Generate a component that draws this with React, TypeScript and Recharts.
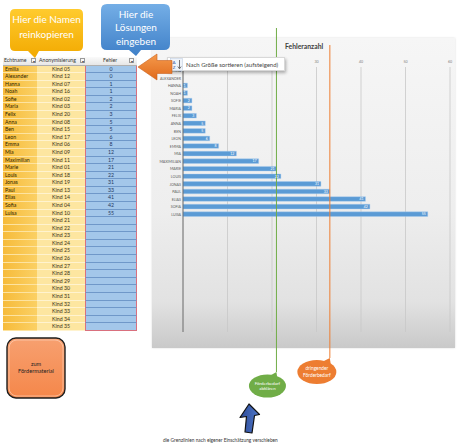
import React from "react";
import { BarChart, Bar, XAxis, YAxis, CartesianGrid, ReferenceLine, LabelList } from "recharts";

const names = [
  "Emilia", "Alexander", "Hanna", "Noah", "Sofie", "Maria", "Felix", "Anna", "Ben", "Leon",
  "Emma", "Mia", "Maximilian", "Marie", "Louis", "Jonas", "Paul", "Elias", "Sofia", "Luisa",
];
const kinds = [
  "Kind 05", "Kind 12", "Kind 07", "Kind 16", "Kind 02", "Kind 03", "Kind 20", "Kind 08", "Kind 15", "Kind 17",
  "Kind 06", "Kind 09", "Kind 11", "Kind 01", "Kind 18", "Kind 19", "Kind 13", "Kind 14", "Kind 04", "Kind 10",
  "Kind 21", "Kind 22", "Kind 23", "Kind 24", "Kind 25", "Kind 26", "Kind 27", "Kind 28", "Kind 29", "Kind 30",
  "Kind 31", "Kind 32", "Kind 33", "Kind 34", "Kind 35",
];
const errors = [0, 0, 1, 1, 2, 2, 3, 5, 5, 6, 8, 12, 17, 21, 22, 31, 33, 41, 42, 55];
const xTicks = [0, 10, 20, 30, 40, 50, 60];
const limitCheck = 21; // Förderbedarf abklären
const limitUrgent = 33; // dringender Förderbedarf

const FONT = "Lato, 'Open Sans', sans-serif";
const ROW_H = 273 / 36;

const rows = kinds.map((kind, i) => ({
  kind,
  name: names[i] ?? "",
  label: (names[i] ?? "").toUpperCase(),
  fehler: i < errors.length ? errors[i] : null,
}));

const labelByKind: Record<string, string> = {};
rows.forEach(r => { labelByKind[r.kind] = r.label; });

function limitShape(color: string, lines: string[], top: number, bottom: number, dx: number, dy: number, rx: number, ry: number, fs: number) {
  return (p: any) => {
    const x = p.x1;
    const y1 = Math.min(p.y1, p.y2) - top;
    const y2 = Math.max(p.y1, p.y2) + bottom;
    const cx = x + dx;
    const cy = y2 + dy;
    return (
      <g>
        <line x1={x} x2={x} y1={y1} y2={y2} stroke={color} strokeWidth={1} />
        <path d={`M ${x} ${y2} L ${x - 7} ${cy - ry + 1.5} L ${x + 1} ${cy - ry + 5} Z`} fill={color} />
        <ellipse cx={cx} cy={cy} rx={rx} ry={ry} fill={color} />
        {lines.map((t, i) => (
          <text key={t} x={cx} y={cy + (i - (lines.length - 1) / 2) * (fs + 1.5) + fs / 3}
            textAnchor="middle" fontSize={fs} fill="#fff" fontFamily={FONT}>{t}</text>
        ))}
      </g>
    );
  };
}

function Dropdown({ left }: { left: number }) {
  return (
    <div style={{ position: "absolute", left, top: 1, width: 5, height: 5, border: "0.5px solid #9a9a9a",
      background: "#f8f8f8", fontSize: 4, lineHeight: "5px", textAlign: "center", color: "#444", boxSizing: "border-box" }}>▾</div>
  );
}

function Table() {
  const cell = { height: ROW_H, lineHeight: `${ROW_H}px`, fontSize: 5.2, boxSizing: "border-box" as const, overflow: "hidden" };
  return (
    <div style={{ position: "absolute", left: 3, top: 57, width: 134, fontFamily: FONT }}>
      <div style={{ position: "relative", height: ROW_H, background: "linear-gradient(#fafafa,#e6e6e6)", borderBottom: "0.5px solid #b0b0b0", color: "#333", fontSize: 5.2, lineHeight: `${ROW_H}px` }}>
        <span style={{ position: "absolute", left: 1 }}>Echtname</span>
        <Dropdown left={28} />
        <span style={{ position: "absolute", left: 36 }}>Anonymisierung</span>
        <Dropdown left={77} />
        <span style={{ position: "absolute", left: 100 }}>Fehler</span>
        <Dropdown left={126} />
      </div>
      {rows.map((r, i) => (
        <div key={r.kind} style={{ display: "flex" }}>
          <div style={{ ...cell, width: 34, paddingLeft: 2, color: "#2b2200", background: "linear-gradient(90deg,#f6bb3a,#fbd064)", borderBottom: "0.5px solid #fde3a0" }}>{r.name}</div>
          <div style={{ ...cell, width: 48, textAlign: "center", color: "#3a3320", background: "#fde6a0", borderBottom: "0.5px solid #fff3cf" }}>{r.kind}</div>
          <div style={{ ...cell, width: 52, textAlign: "center", color: "#1f3864", background: "#a3c7ea", borderLeft: "1px solid #d9707e", borderRight: "1px solid #d9707e", borderBottom: i === rows.length - 1 ? "1px solid #d9707e" : "0.5px solid #6f98c9" }}>{r.fehler ?? ""}</div>
        </div>
      ))}
    </div>
  );
}

function Decorations() {
  return (
    <svg width={458} height={446} style={{ position: "absolute", left: 0, top: 0, pointerEvents: "none" }}>
      <defs>
        <linearGradient id="gYellow" x1="0" y1="0" x2="0" y2="1">
          <stop offset="0%" stopColor="#ffcb2e" />
          <stop offset="100%" stopColor="#f2a900" />
        </linearGradient>
        <linearGradient id="gBlue" x1="0" y1="0" x2="0" y2="1">
          <stop offset="0%" stopColor="#74aee6" />
          <stop offset="100%" stopColor="#3f80c8" />
        </linearGradient>
        <linearGradient id="gOrange" x1="0" y1="0" x2="0" y2="1">
          <stop offset="0%" stopColor="#f59a4c" />
          <stop offset="100%" stopColor="#e06a1c" />
        </linearGradient>
        <linearGradient id="gButton" x1="0" y1="0" x2="0" y2="1">
          <stop offset="0%" stopColor="#f7a070" />
          <stop offset="100%" stopColor="#f5874a" />
        </linearGradient>
        <linearGradient id="gArrow" x1="0" y1="0" x2="1" y2="0">
          <stop offset="0%" stopColor="#2c4a98" />
          <stop offset="100%" stopColor="#5078c8" />
        </linearGradient>
      </defs>
      {/* yellow callout */}
      <path d="M 15 9 H 78 Q 83 9 83 14 V 46 Q 83 51 78 51 H 39 L 35 58 L 28 51 H 15 Q 10 51 10 46 V 14 Q 10 9 15 9 Z" fill="url(#gYellow)" />
      <text x={46.5} y={23} textAnchor="middle" fontSize={10} fill="#fff" fontFamily={FONT}>Hier die Namen</text>
      <text x={46.5} y={38} textAnchor="middle" fontSize={10} fill="#fff" fontFamily={FONT}>reinkopieren</text>
      {/* blue callout */}
      <path d="M 107 4 H 164 Q 170 4 170 10 V 44 Q 170 50 164 50 H 141 L 136 56 L 129 50 H 107 Q 101 50 101 44 V 10 Q 101 4 107 4 Z" fill="url(#gBlue)" />
      <text x={136} y={18} textAnchor="middle" fontSize={10} fill="#fff" fontFamily={FONT}>Hier die</text>
      <text x={136} y={31} textAnchor="middle" fontSize={10} fill="#fff" fontFamily={FONT}>Lösungen</text>
      <text x={136} y={45} textAnchor="middle" fontSize={10} fill="#fff" fontFamily={FONT}>eingeben</text>
      {/* orange arrow pointing at the table */}
      <path d="M 138 67 L 157 54 V 60.5 H 172 V 73.5 H 157 V 80 Z" fill="url(#gOrange)" stroke="#c9621e" strokeWidth={0.6} />
      {/* button */}
      <rect x={7} y={338} width={58} height={60} rx={9} fill="url(#gButton)" stroke="#1e1e1e" strokeWidth={1.4} />
      <rect x={9} y={340} width={54} height={56} rx={8} fill="none" stroke="#ffd9c2" strokeWidth={0.6} />
      <text x={36} y={366} textAnchor="middle" fontSize={5.6} fill="#222" fontFamily={FONT}>zum</text>
      <text x={36} y={373} textAnchor="middle" fontSize={5.6} fill="#222" fontFamily={FONT}>Fördermaterial</text>
      {/* blue arrow */}
      <path d="M 249 404 L 259.5 414.5 L 254.5 415.5 L 252 433 L 245 432 L 246.5 416.5 L 240 417.5 Z" fill="url(#gArrow)" stroke="#111" strokeWidth={1.2} strokeLinejoin="round" />
      <text x={163} y={442} fontSize={4.8} fill="#333" fontFamily={FONT}>die Grenzlinien nach eigener Einschätzung verschieben</text>
    </svg>
  );
}

function SortPopup() {
  return (
    <div style={{ position: "absolute", left: 167, top: 57, width: 118, height: 14, background: "#fff", border: "0.5px solid #d8d8d8",
      boxShadow: "1px 2px 3px rgba(0,0,0,0.3)", fontFamily: FONT, boxSizing: "border-box" }}>
      <svg width={14} height={13} style={{ position: "absolute", left: 2, top: 0 }}>
        <rect x={0.5} y={0.5} width={12} height={12} fill="#eef3fa" stroke="#b8c8de" strokeWidth={0.5} />
        <text x={4} y={5.5} fontSize={4.5} textAnchor="middle" fill="#2f5597" fontFamily={FONT}>A</text>
        <text x={4} y={11} fontSize={4.5} textAnchor="middle" fill="#2f5597" fontFamily={FONT}>Z</text>
        <path d="M 9.5 2 V 10.5 M 7.8 8.5 L 9.5 10.8 L 11.2 8.5" stroke="#555" strokeWidth={0.8} fill="none" />
      </svg>
      <span style={{ position: "absolute", left: 18, top: 0, lineHeight: "13px", fontSize: 6, color: "#444", whiteSpace: "nowrap" }}>
        Nach Größe sortieren (aufsteigend)
      </span>
    </div>
  );
}

export default function App() {
  return (
    <div style={{ position: "relative", width: 458, height: 446, background: "#fff", overflow: "hidden", fontFamily: FONT }}>
      <style>{"body{margin:0}"}</style>
      <Table />
      {/* chart panel */}
      <div style={{ position: "absolute", left: 152, top: 38, width: 303, height: 310,
        background: "linear-gradient(180deg,#f6f6f6 0%,#eeeeee 55%,#e2e2e2 85%,#c9c9c9 100%)",
        boxShadow: "0 0 2px rgba(0,0,0,0.15)" }} />
      <div style={{ position: "absolute", left: 285, top: 42, fontSize: 6.8, fontWeight: 700, color: "#404040", fontFamily: FONT }}>Fehleranzahl</div>
      <div style={{ position: "absolute", left: 150, top: 28 }}>
        <BarChart width={306} height={372} data={rows} layout="vertical"
          margin={{ top: 29, right: 6, bottom: 68, left: 5 }}>
          <CartesianGrid horizontal={false} stroke="#c8c8c8" strokeWidth={0.8} />
          <XAxis type="number" orientation="top" domain={[0, 60]} ticks={xTicks} height={10}
            axisLine={false} tickLine={false} tickSize={3} tickMargin={1}
            tick={{ fontSize: 3.6, fill: "#7f7f7f", fontFamily: FONT }} />
          <YAxis type="category" dataKey="kind" width={28} interval={0} tickLine={false} tickSize={2} tickMargin={0}
            axisLine={{ stroke: "#595959", strokeWidth: 0.8 }}
            tickFormatter={(v: string) => labelByKind[v] ?? ""}
            tick={{ fontSize: 3.6, fill: "#595959", fontFamily: FONT }} />
          <Bar dataKey="fehler" barSize={4.6} fill="#5b9bd5" stroke="#a9cdef" strokeWidth={0.4} isAnimationActive={false}>
            <LabelList dataKey="fehler" position="insideRight" offset={2} fill="#ffffff" fontSize={3.5} fontFamily={FONT}
              formatter={(v: any) => (v ? v : "")} />
          </Bar>
          <ReferenceLine x={limitCheck} ifOverflow="visible"
            shape={limitShape("#70ad47", ["Förderbedarf", "abklären"], 39, 40, -9, 14, 18.5, 11.5, 4.4)} />
          <ReferenceLine x={limitUrgent} ifOverflow="visible"
            shape={limitShape("#ed7d31", ["dringender", "Förderbedarf"], 22, 26, -13, 14, 19.5, 12, 4.8)} />
        </BarChart>
      </div>
      <SortPopup />
      <Decorations />
    </div>
  );
}
